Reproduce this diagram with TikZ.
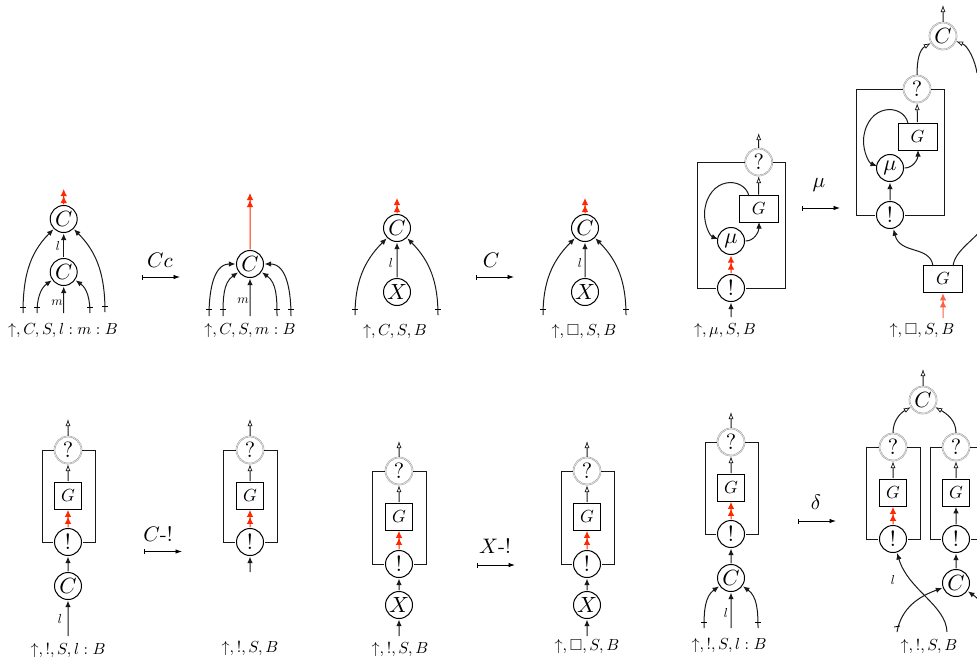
\documentclass[tikz,border=0pt]{standalone}
\usepackage{amssymb}
\usetikzlibrary{arrows.meta,calc}
\definecolor{redc}{RGB}{255,40,0}
\tikzset{
  x=1pt,y=-1pt,
  wire/.style={line width=1pt,black!90},
  blk/.style={wire,-{Latex[length=6.5pt,width=5.5pt]}},
  wht/.style={wire,-{Latex[open,fill=white,length=7pt,width=5pt,line width=0.7pt]}},
  red/.style={line width=1pt,color=redc,-{Latex[length=7pt,width=6.5pt]Latex[length=7pt,width=6.5pt]}},
  gate/.style={circle,draw,line width=1pt,scale=2.2,transform shape,minimum size=12.27pt,inner sep=0pt,fill=white},
  why/.style={circle,draw=black!40,line width=0.6pt,dash pattern=on 0.8pt off 0.4pt,double=white,double distance=0.5pt,scale=2.2,transform shape,minimum size=12.27pt,inner sep=0pt,fill=white},
  boxg/.style={rectangle,draw,line width=1pt,scale=1.75,transform shape,minimum width=15.43pt,minimum height=15.43pt,inner sep=0pt,fill=white},
  boxw/.style={rectangle,draw,line width=1pt,scale=1.75,transform shape,minimum width=22.29pt,minimum height=15.43pt,inner sep=0pt,fill=white},
  frame/.style={line width=1pt,black!90},
  rul/.style={line width=0.8pt,{Bar[width=5pt]}-{Latex[length=6.5pt,width=4.5pt]}},
  lab/.style={inner sep=0pt,scale=1.6,transform shape},
  rlab/.style={inner sep=0pt,scale=2.1,transform shape},
  wl/.style={inner sep=0pt,scale=1.3,transform shape},
  tick/.style={line width=0.8pt},
}
\newcommand{\tk}[2]{\draw[tick] (#1-3,#2) -- (#1+3,#2);}
% promotion box diagram: #1 name prefix, #2 x, #3 left, #4 right, #5 top y, #6 bottom y, #7 G top
\newcommand{\promo}[7]{%
  \node[why] (#1q) at (#2,#5) {$?$};
  \node[gate] (#1b) at (#2,#6) {$!$};
  \node[boxg] (#1g) at (#2,#7+13.5) {$G$};
  \draw[frame] (#1q.west) -- (#3,#5) -- (#3,#6) -- (#1b.west);
  \draw[frame] (#1q.east) -- (#4,#5) -- (#4,#6) -- (#1b.east);
  \draw[wht] (#1g) -- (#1q);
}
\begin{document}
\begin{tikzpicture}
\useasboundingbox (0,0) rectangle (977,662);
\clip (0,0) rectangle (977,662);
% --- diagram 1
\node[gate] (a1) at (63.7,219) {$C$};
\node[gate] (a2) at (63.7,272) {$C$};
\coordinate (a1t) at (63.7,189);
\coordinate (a3) at (23,313);\coordinate (a4) at (37,313);\coordinate (a5) at (63.7,313);\coordinate (a6) at (90,313);\coordinate (a7) at (105,312);
\draw[red] (a1) -- (a1t);
\draw[blk] (a2) -- (a1);
\draw[blk] (a3) to[out=90,in=-135] (a1);
\draw[blk] (a7) to[out=90,in=-45] (a1);
\draw[blk] (a4) to[out=90,in=-145] (a2);
\draw[blk] (a6) to[out=90,in=-35] (a2);
\draw[blk] (a5) -- (a2);
\tk{23}{307}\tk{37}{307}\tk{90}{307}\tk{105}{306}
\node[wl] (al) at (58,246) {$l$};
\node[wl] (am) at (57,303) {$m$};
\node[lab] (at) at (63,330) {$\uparrow,C,S,l:m:B$};
% rule Cc
\coordinate (r1a) at (142,277);\coordinate (r1b) at (180,277);
\draw[rul] (r1a) -- (r1b);
\node[rlab] (r1) at (160,260) {$Cc$};
% --- diagram 2
\node[gate] (b1) at (250,264) {$C$};
\coordinate (b1t) at (250,193);
\coordinate (b3) at (209,316);\coordinate (b4) at (223,316);\coordinate (b5) at (250,316);\coordinate (b6) at (277,316);\coordinate (b7) at (291,316);
\draw[red] (b1) -- (b1t);
\draw[blk] (b3) to[out=90,in=180] (b1);
\draw[blk] (b4) to[out=90,in=-145] (b1);
\draw[blk] (b5) -- (b1);
\draw[blk] (b6) to[out=90,in=-35] (b1);
\draw[blk] (b7) to[out=90,in=0] (b1);
\tk{209}{309}\tk{223}{309}\tk{277}{309}\tk{291}{309}
\node[wl] (bm) at (243,301) {$m$};
\node[lab] (bt) at (250,330) {$\uparrow,C,S,m:B$};
% --- diagram 3
\node[gate] (c1) at (397,228) {$C$};
\node[gate] (c2) at (397,292) {$X$};
\coordinate (c1t) at (397,198);\coordinate (c3) at (355,315);\coordinate (c4) at (438,315);
\draw[red] (c1) -- (c1t);
\draw[blk] (c2) -- (c1);
\draw[blk] (c3) to[out=90,in=-135] (c1);
\draw[blk] (c4) to[out=90,in=-45] (c1);
\tk{355}{309}\tk{438}{309}
\node[wl] (cl) at (391,263) {$l$};
\node[lab] (ct) at (395,331) {$\uparrow,C,S,B$};
% rule C
\coordinate (r2a) at (476,277);\coordinate (r2b) at (514,277);
\draw[rul] (r2a) -- (r2b);
\node[rlab] (r2) at (491,260) {$C$};
% --- diagram 4
\node[gate] (d1) at (585,228) {$C$};
\node[gate] (d2) at (585,292) {$X$};
\coordinate (d1t) at (585,198);\coordinate (d3) at (543,315);\coordinate (d4) at (626,315);
\draw[red] (d1) -- (d1t);
\draw[blk] (d2) -- (d1);
\draw[blk] (d3) to[out=90,in=-135] (d1);
\draw[blk] (d4) to[out=90,in=-45] (d1);
\tk{543}{309}\tk{626}{309}
\node[wl] (dl) at (580,263) {$l$};
\node[lab] (dt) at (584,331) {$\uparrow,\square,S,B$};
% --- diagram 5
\node[why] (eq) at (758.7,162) {$?$};
\node[gate] (eb) at (731,288) {$!$};
\node[gate] (em) at (731,241) {$\mu$};
\node[boxw] (eg) at (758.7,209) {$G$};
\draw[frame] (eq.west) -- (697,162) -- (697,288) -- (eb.west);
\draw[frame] (eq.east) -- (785,162) -- (785,288) -- (eb.east);
\coordinate (eqt) at (758.7,133);\coordinate (ein) at (731,317);
\draw[wht] (eg) -- (eq);
\draw[wht] (eq) -- (eqt);
\draw[red] (eb) -- (em);
\draw[blk] (ein) -- (eb);
\draw[blk] (749,196) .. controls (744,176) and (708,176) .. (704.5,212) .. controls (704,225) and (710,236) .. (718,239);
\draw[blk] (em.east) to[out=0,in=-90] (759,222);
\node[lab] (et) at (725,330) {$\uparrow,\mu,S,B$};
% rule mu
\coordinate (r3a) at (802,208);\coordinate (r3b) at (840,208);
\draw[rul] (r3a) -- (r3b);
\node[rlab] (r3) at (819,185) {$\mu$};
% --- diagram 6
\node[why] (fc) at (943,36) {$C$};
\node[why] (fq) at (917,89) {$?$};
\node[gate] (fb) at (890,215) {$!$};
\node[gate] (fm) at (890,168) {$\mu$};
\node[boxw] (fg) at (917.5,136.5) {$G$};
\node[boxw] (fh) at (943,279) {$G$};
\draw[frame] (fq.west) -- (856,89) -- (856,215) -- (fb.west);
\draw[frame] (fq.east) -- (944,89) -- (944,215) -- (fb.east);
\coordinate (fct) at (943,5);\coordinate (fin) at (943,318);\coordinate (fr) at (985,225);
\draw[wht] (fc) -- (fct);
\draw[wht] (fg) -- (fq);
\draw[wht] (fq) to[out=90,in=-150] (fc);
\draw[wht] (977,73) .. controls (975,60) and (968,46) .. (fc);
\draw[blk] (fb) -- (fm);
\draw[blk] (908,123) .. controls (903,103) and (867,103) .. (863.5,139) .. controls (863,152) and (869,163) .. (877,166);
\draw[blk] (fm.east) to[out=0,in=-90] (918,150);
\draw[red,color=redc!75] (fin) -- (fh);
\draw[blk] (933,266) .. controls (930,245) and (900,255) .. (fb);
\draw[wire] (953,266) .. controls (955,250) and (975,240) .. (fr);
\node[lab] (ft) at (922,330) {$\uparrow,\square,S,B$};
% --- diagram 7
\promo{g}{68}{42}{95}{450}{542}{482}
\node[gate] (gc) at (68,586) {$C$};
\coordinate (gt) at (68,419);\coordinate (gin) at (68,636);
\draw[wht] (gq) -- (gt);
\draw[red] (gb) -- (gg);
\draw[blk] (gc) -- (gb);
\draw[blk] (gin) -- (gc);
\node[wl] (gl) at (60,619) {$l$};
\node[lab] (gtx) at (68,650) {$\uparrow,!,S,l:B$};
% rule C-!
\coordinate (r4a) at (144,551.5);\coordinate (r4b) at (182,551.5);
\draw[rul] (r4a) -- (r4b);
\node[rlab] (r4) at (158,534) {$C$-$!$};
% --- diagram 8
\promo{h}{250}{223.5}{277}{450}{542}{482}
\coordinate (ht) at (250,419);\coordinate (hin) at (250,572);
\draw[wht] (hq) -- (ht);
\draw[red] (hb) -- (hg);
\draw[blk] (hin) -- (hb);
\node[lab] (htx) at (250,648) {$\uparrow,!,S,B$};
% --- diagram 9
\promo{i}{399}{372}{426}{471}{564}{503}
\node[gate] (ix) at (399,605) {$X$};
\coordinate (it) at (399,441);\coordinate (iin) at (399,636);
\draw[wht] (iq) -- (it);
\draw[red] (ib) -- (ig);
\draw[blk] (ix) -- (ib);
\draw[blk] (iin) -- (ix);
\node[lab] (itx) at (400,649) {$\uparrow,!,S,B$};
% rule X-!
\coordinate (r5a) at (477,565);\coordinate (r5b) at (515,565);
\draw[rul] (r5a) -- (r5b);
\node[rlab] (r5) at (495,546) {$X$-$!$};
% --- diagram 10
\promo{j}{587}{561}{614}{471}{564}{503}
\node[gate] (jx) at (587,605) {$X$};
\coordinate (jt) at (587,441);\coordinate (jin) at (587,636);
\draw[wht] (jq) -- (jt);
\draw[red] (jb) -- (jg);
\draw[blk] (jx) -- (jb);
\draw[blk] (jin) -- (jx);
\node[lab] (jtx) at (587,646) {$\uparrow,\square,S,B$};
% --- diagram 11
\promo{k}{731}{705}{758}{442}{534}{474}
\node[gate] (kc) at (731,578) {$C$};
\coordinate (kt) at (731,412);\coordinate (k1) at (704,628);\coordinate (k2) at (731,628);\coordinate (k3) at (758,628);
\draw[wht] (kq) -- (kt);
\draw[red] (kb) -- (kg);
\draw[blk] (kc) -- (kb);
\draw[blk] (k2) -- (kc);
\draw[blk] (k1) to[out=90,in=-145] (kc);
\draw[blk] (k3) to[out=90,in=-35] (kc);
\tk{704}{622}\tk{758}{622}
\node[wl] (kl) at (726,613) {$l$};
\node[lab] (ktx) at (729,645) {$\uparrow,!,S,l:B$};
% rule delta
\coordinate (r6a) at (798,521);\coordinate (r6b) at (836,521);
\draw[rul] (r6a) -- (r6b);
\node[rlab] (r6) at (816,502) {$\delta$};
% --- diagram 12
\node[why] (lc) at (923,400) {$C$};
\promo{m}{893}{866}{920}{447}{539}{479}
\promo{n}{956}{930}{983}{447}{539}{479}
\node[gate] (lcc) at (956,583) {$C$};
\coordinate (lt) at (923,369);\coordinate (l1) at (947,632);\coordinate (l2) at (897,632);\coordinate (l3) at (1000,645);
\draw[wht] (lc) -- (lt);
\draw[wht] (mq) to[out=90,in=-150] (lc);
\draw[wht] (nq) to[out=90,in=-30] (lc);
\draw[red] (mb) -- (mg);
\draw[blk] (nb) -- (ng);
\draw[blk] (lcc) -- (nb);
\draw[blk] (l1) .. controls (946,605) and (908,590) .. (mb);
\draw[blk] (l2) to[out=80,in=-160] (lcc);
\draw[blk] (l3) to[out=110,in=-35] (lcc);
\draw[tick] (894,627) -- (900,626);
\node[wl] (ll) at (893,580) {$l$};
\node[lab] (ltx) at (929,646) {$\uparrow,!,S,B$};
\end{tikzpicture}
\end{document}
